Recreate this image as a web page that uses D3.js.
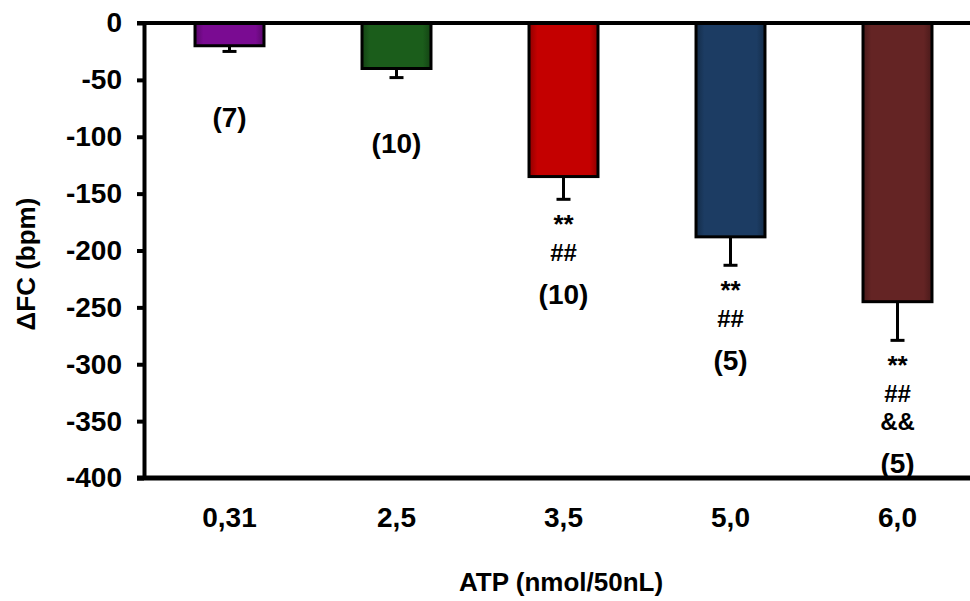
<!DOCTYPE html>
<html>
<head>
<meta charset="utf-8">
<title>ATP dose response</title>
<style>
  body { margin: 0; background: #fff; }
  svg text { font-family: "Liberation Sans", Arial, sans-serif; font-weight: bold; fill: #000; }
</style>
</head>
<body>
<div id="chart"></div>
<script src="https://d3js.org/d3.v7.min.js"></script>
<script>
// data
var doses = ["0,31", "2,5", "3,5", "5,0", "6,0"];
var meanFC = [-20, -40, -135, -188, -245];
var semFC = [5, 8, 20, 25, 34];
var nAnimals = ["(7)", "(10)", "(10)", "(5)", "(5)"];
var marks = [[], [], ["**", "##"], ["**", "##"], ["**", "##", "&&"]];
var barColors = ["#7a0b92", "#1b5d1b", "#c40000", "#1c3c63", "#642424"];
var yTicks = [0, -50, -100, -150, -200, -250, -300, -350, -400];

var width = 970, height = 601;
var svg = d3.select("#chart").append("svg")
    .attr("width", width)
    .attr("height", height);

var x = d3.scaleBand()
    .domain(doses)
    .range([146, 981])
    .paddingInner(0.587)
    .paddingOuter(0.2935);

var y = d3.scaleLinear()
    .domain([-400, 0])
    .range([478, 23]);

// gradients, darker at the edges of each bar
var defs = svg.append("defs");
barColors.forEach(function(c, i) {
    var g = defs.append("linearGradient").attr("id", "grad" + i);
    var dark = d3.color(c).darker(0.9);
    g.append("stop").attr("offset", "0%").attr("stop-color", dark);
    g.append("stop").attr("offset", "12%").attr("stop-color", c);
    g.append("stop").attr("offset", "88%").attr("stop-color", c);
    g.append("stop").attr("offset", "100%").attr("stop-color", dark);
});

// error bars
var err = svg.append("g");
doses.forEach(function(d, i) {
    var cx = x(d) + x.bandwidth() / 2;
    err.append("line")
        .attr("x1", cx).attr("x2", cx)
        .attr("y1", y(meanFC[i])).attr("y2", y(meanFC[i] - semFC[i]))
        .attr("stroke", "#000").attr("stroke-width", 3);
    err.append("line")
        .attr("x1", cx - 7).attr("x2", cx + 7)
        .attr("y1", y(meanFC[i] - semFC[i])).attr("y2", y(meanFC[i] - semFC[i]))
        .attr("stroke", "#000").attr("stroke-width", 3);
});

// bars
svg.append("g").selectAll("rect")
    .data(meanFC)
    .enter().append("rect")
    .attr("x", function(d, i) { return x(doses[i]); })
    .attr("y", y(0))
    .attr("width", x.bandwidth())
    .attr("height", function(d) { return y(d) - y(0); })
    .attr("fill", function(d, i) { return "url(#grad" + i + ")"; })
    .attr("stroke", "#000")
    .attr("stroke-width", 3);

// y axis (plain hyphen minus like the original)
var yAxis = svg.append("g")
    .attr("transform", "translate(144,0)")
    .call(d3.axisLeft(y).tickValues(yTicks).tickSize(7).tickSizeOuter(0).tickPadding(15)
        .tickFormat(function(d) { return String(d); }));
yAxis.select(".domain").attr("stroke-width", 4);
yAxis.selectAll(".tick line").attr("stroke-width", 4);
yAxis.selectAll("text")
    .style("font-size", "28px")
    .style("font-family", "'Liberation Sans', Arial, sans-serif")
    .style("font-weight", "bold")
    .attr("fill", "#000");

// horizontal lines at 0 and -400
svg.append("line")
    .attr("x1", 137).attr("x2", width)
    .attr("y1", y(0)).attr("y2", y(0))
    .attr("stroke", "#000").attr("stroke-width", 4);
svg.append("line")
    .attr("x1", 137).attr("x2", width)
    .attr("y1", y(-400)).attr("y2", y(-400))
    .attr("stroke", "#000").attr("stroke-width", 5);

// x labels
svg.append("g").selectAll("text")
    .data(doses)
    .enter().append("text")
    .attr("x", function(d) { return x(d) + x.bandwidth() / 2; })
    .attr("y", 520)
    .attr("text-anchor", "middle")
    .attr("dominant-baseline", "middle")
    .style("font-size", "28px")
    .text(function(d) { return d; });

// significance marks and n
var ann = svg.append("g");
doses.forEach(function(d, i) {
    var cx = x(d) + x.bandwidth() / 2;
    var capY = y(meanFC[i] - semFC[i]);
    var yy = capY + 27;
    marks[i].forEach(function(m, j) {
        ann.append("text")
            .attr("x", cx)
            .attr("y", yy + j * 28)
            .attr("text-anchor", "middle")
            .attr("dominant-baseline", "middle")
            .style("font-size", m == "**" ? "26px" : "24px")
            .text(m);
    });
    var nY = marks[i].length ? yy + (marks[i].length - 1) * 28 + 42 : capY + 68;
    ann.append("text")
        .attr("x", cx)
        .attr("y", nY)
        .attr("text-anchor", "middle")
        .attr("dominant-baseline", "middle")
        .style("font-size", "28px")
        .text(nAnimals[i]);
});

// axis titles
svg.append("text")
    .attr("x", 561)
    .attr("y", 584)
    .attr("text-anchor", "middle")
    .attr("dominant-baseline", "middle")
    .style("font-size", "26px")
    .text("ATP (nmol/50nL)");

svg.append("text")
    .attr("transform", "translate(28,264) rotate(-90)")
    .attr("text-anchor", "middle")
    .attr("dominant-baseline", "middle")
    .style("font-size", "26px")
    .text("ΔFC (bpm)");
</script>
</body>
</html>
